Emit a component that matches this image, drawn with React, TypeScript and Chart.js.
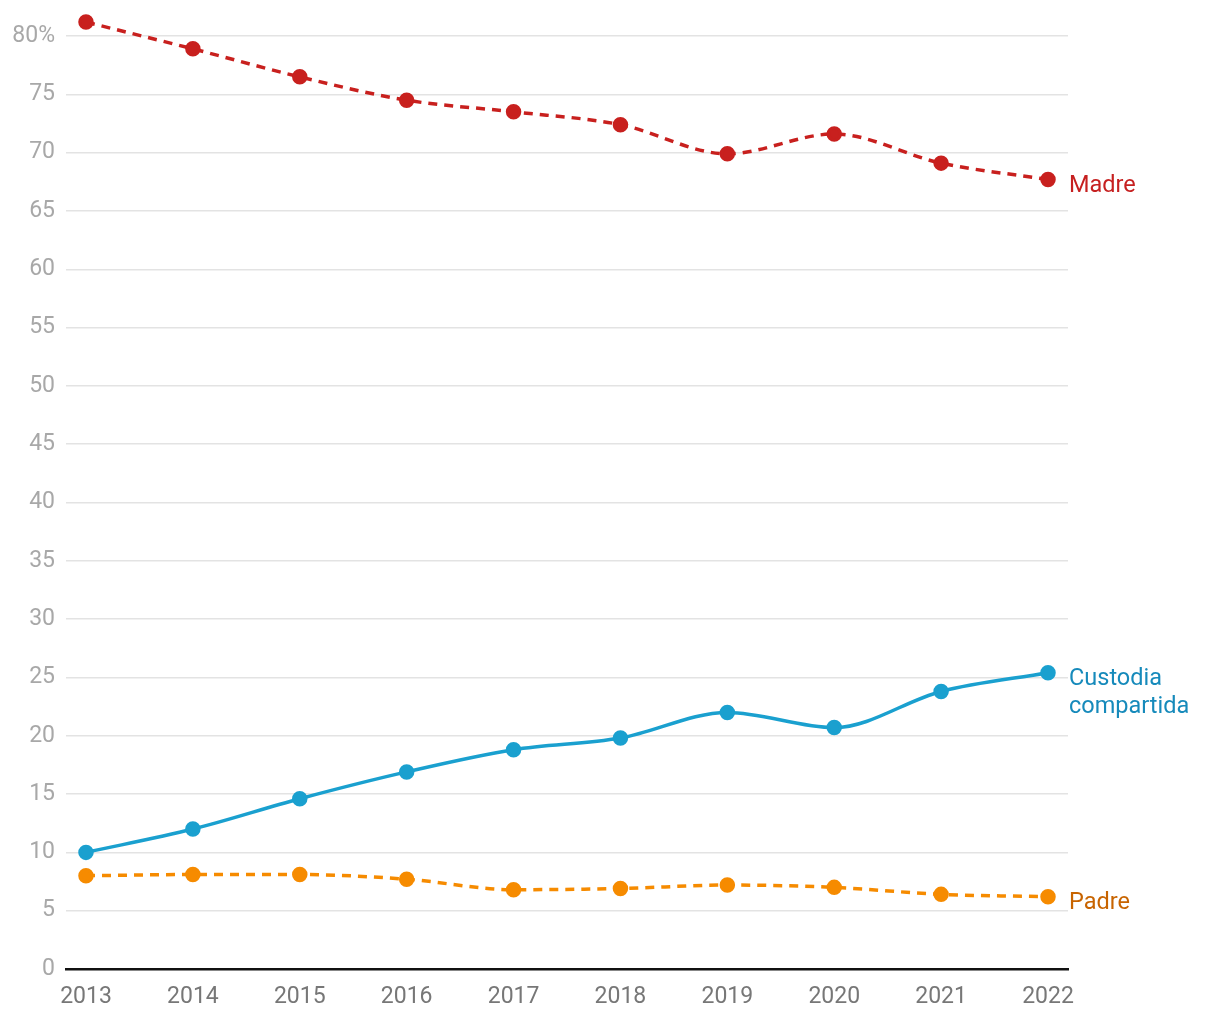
import React, { useEffect, useRef } from "react";
import { Chart, registerables } from "chart.js";

Chart.register(...registerables);

const years = [2013, 2014, 2015, 2016, 2017, 2018, 2019, 2020, 2021, 2022];
const madre = [81.2, 78.9, 76.5, 74.5, 73.5, 72.4, 69.9, 71.6, 69.1, 67.7];
const custodia = [10.0, 12.0, 14.6, 16.9, 18.8, 19.8, 22.0, 20.7, 23.8, 25.4];
const padre = [8.0, 8.1, 8.1, 7.7, 6.8, 6.9, 7.2, 7.0, 6.4, 6.2];
const seriesLabels = [["Madre"], ["Custodia", "compartida"], ["Padre"]];
const yTicks = [0, 5, 10, 15, 20, 25, 30, 35, 40, 45, 50, 55, 60, 65, 70, 75, 80];

const lineColors = ["#c8201e", "#1aa0cf", "#f68b00"];
const labelColors = ["#c62020", "#168abb", "#c86400"];

const endLabels = {
  id: "endLabels",
  afterDatasetsDraw(chart: any) {
    const ctx = chart.ctx;
    const area = chart.chartArea;
    const ys = chart.scales.y;
    ctx.save();
    ctx.font = "23.5px Roboto";
    ctx.textBaseline = "middle";
    ctx.textAlign = "left";
    chart.data.datasets.forEach((ds: any, i: number) => {
      const last = ds.data[ds.data.length - 1].y;
      const py = ys.getPixelForValue(last);
      ctx.fillStyle = labelColors[i];
      seriesLabels[i].forEach((line, j) => {
        ctx.fillText(line, area.right + 1, py + 6.5 + j * 28);
      });
    });
    ctx.restore();
  },
};

export default function App() {
  const ref = useRef<HTMLCanvasElement>(null);
  useEffect(() => {
    if (!ref.current) return;
    const mk = (arr: number[]) => years.map((x, i) => ({ x, y: arr[i] }));
    const base = {
      borderWidth: 3.5,
      pointRadius: 6,
      pointHoverRadius: 6,
      cubicInterpolationMode: "monotone" as const,
      clip: false as any,
    };
    const chart = new Chart(ref.current, {
      type: "line",
      data: {
        datasets: [
          { ...base, data: mk(madre), borderColor: lineColors[0], backgroundColor: lineColors[0], borderDash: [9, 7] },
          { ...base, data: mk(custodia), borderColor: lineColors[1], backgroundColor: lineColors[1] },
          { ...base, data: mk(padre), borderColor: lineColors[2], backgroundColor: lineColors[2], borderDash: [9, 7] },
        ],
      },
      options: {
        animation: false,
        responsive: false,
        maintainAspectRatio: false,
        layout: { padding: { top: 12.7, right: 152, left: 0, bottom: 0 } },
        plugins: { legend: { display: false }, tooltip: { enabled: false } },
        scales: {
          x: {
            type: "linear",
            min: 2012.813,
            max: 2022.187,
            afterBuildTicks: (scale: any) => {
              scale.ticks = years.map((v) => ({ value: v }));
            },
            afterFit: (scale: any) => {
              scale.height = 51;
              scale.paddingLeft = 0;
              scale.paddingRight = 0;
            },
            grid: { display: false, drawTicks: false },
            border: { display: true, color: "#111", width: 2.5 },
            ticks: {
              color: "#777",
              font: { family: "Roboto", size: 23 },
              padding: 14,
              maxRotation: 0,
              autoSkip: false,
              callback: (v: any) => String(v),
            },
          },
          y: {
            min: 0,
            max: 82,
            afterBuildTicks: (scale: any) => {
              scale.ticks = yTicks.map((v) => ({ value: v }));
            },
            afterFit: (scale: any) => {
              scale.width = 66;
              scale.paddingTop = 0;
              scale.paddingBottom = 0;
            },
            grid: { color: "#e3e3e3", lineWidth: 1.5, drawTicks: false },
            border: { display: false },
            ticks: {
              color: "#a8a8a8",
              font: { family: "Roboto", size: 23 },
              padding: 11,
              callback: (v: any) => (v === 80 ? "80%" : String(v)),
            },
          },
        },
      },
      plugins: [endLabels],
    });
    return () => chart.destroy();
  }, []);
  return (
    <div style={{ position: "fixed", left: 0, top: 0, width: 1220, height: 1020, background: "#fff" }}>
      <canvas ref={ref} width={1220} height={1020} style={{ width: 1220, height: 1020 }} />
    </div>
  );
}
